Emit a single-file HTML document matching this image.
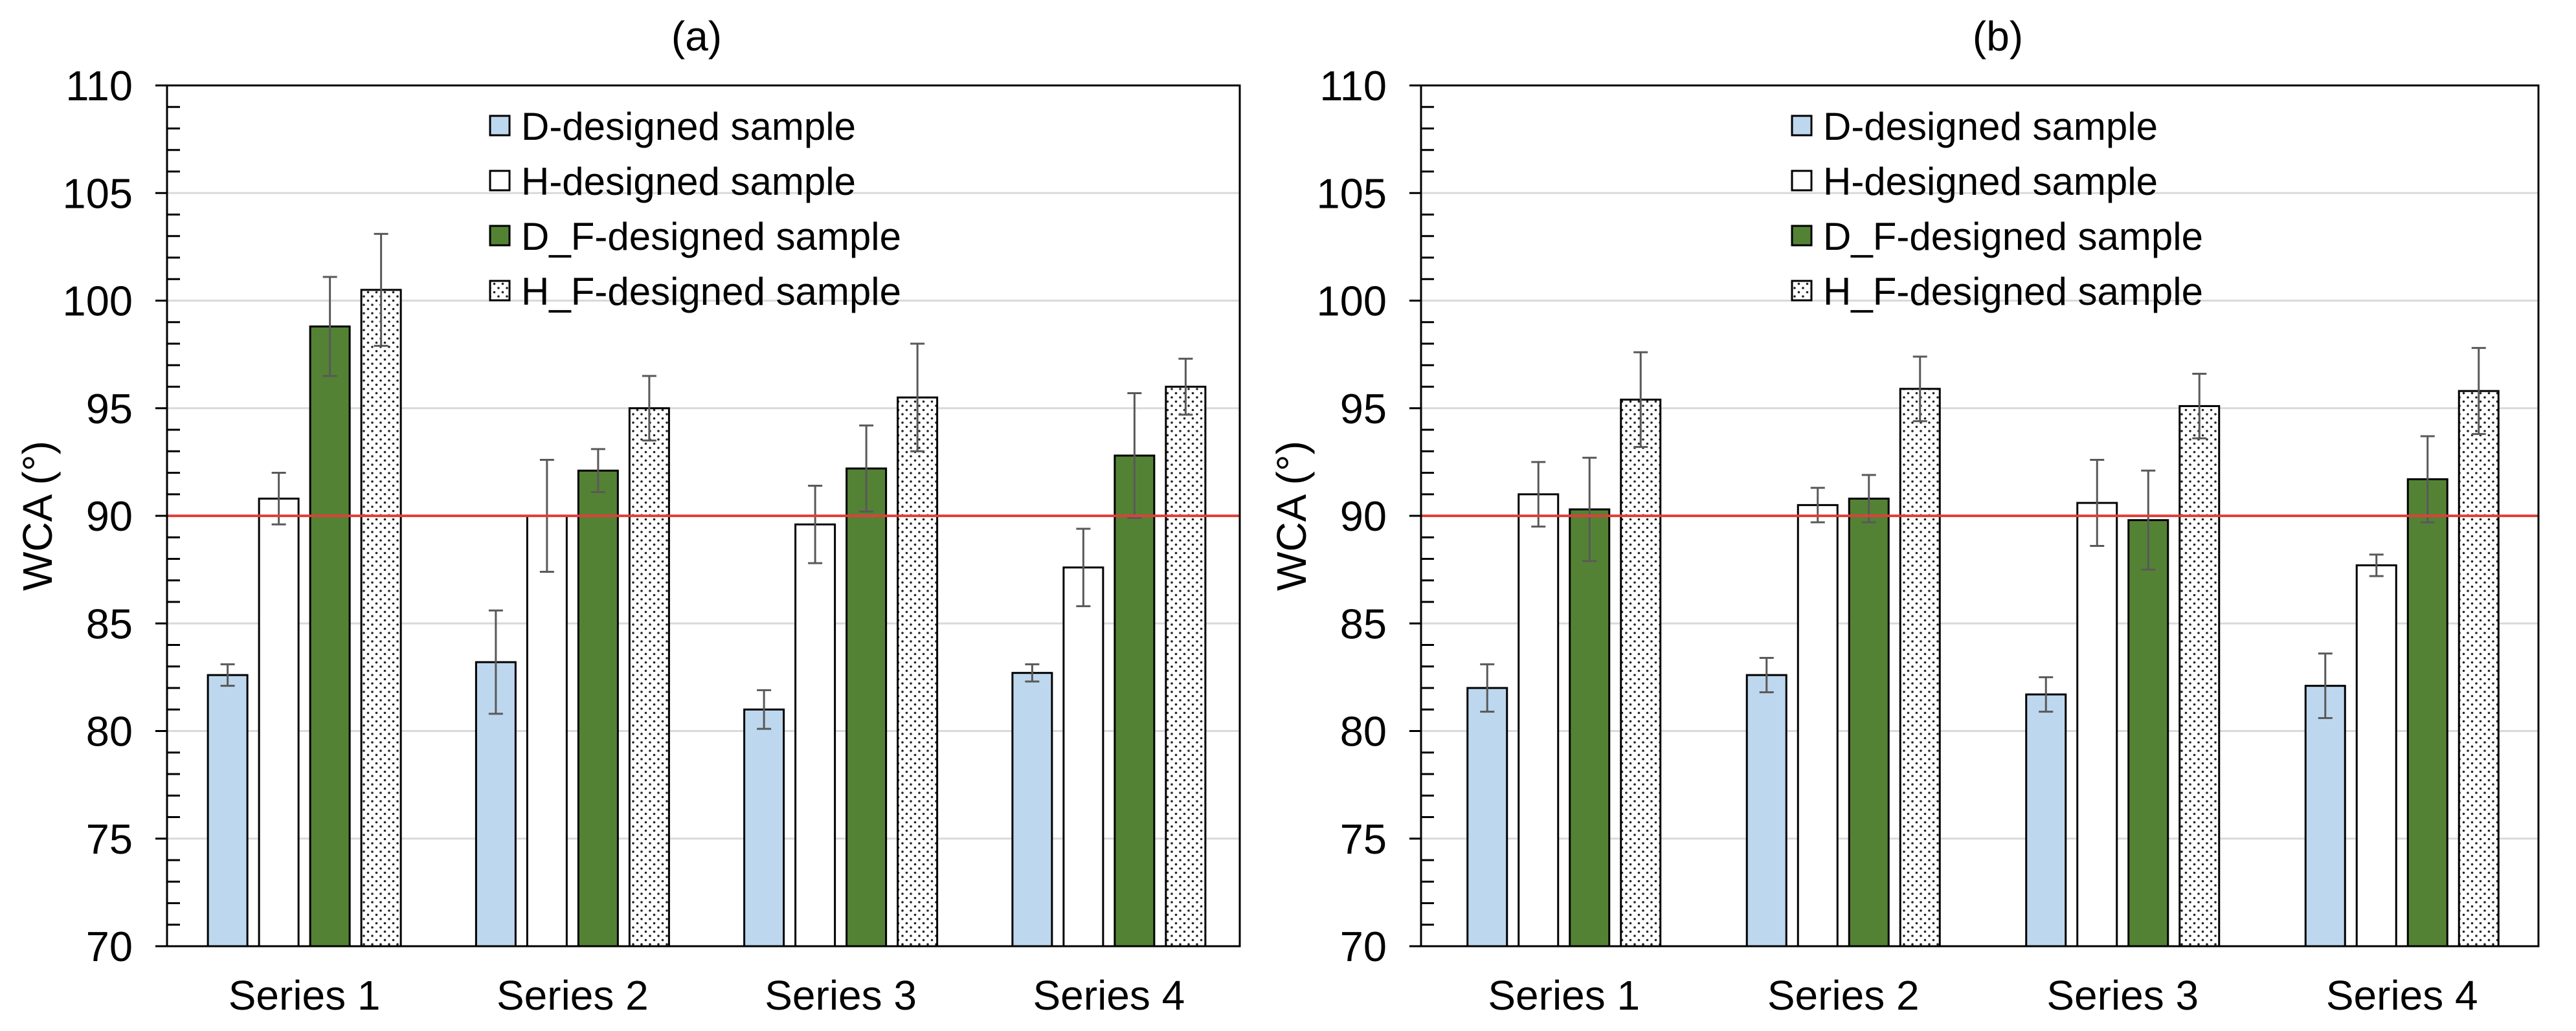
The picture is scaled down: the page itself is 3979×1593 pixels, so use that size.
<!DOCTYPE html>
<html><head><meta charset="utf-8">
<style>
html,body{margin:0;padding:0;background:#fff;}
svg{display:block;font-family:"Liberation Sans",Arial,sans-serif;}
</style></head>
<body>
<svg id="chart" width="3979" height="1593" viewBox="0 0 3979 1593" xmlns="http://www.w3.org/2000/svg">
<defs>
<pattern id="dots" width="13" height="13" patternUnits="userSpaceOnUse">
<rect width="13" height="13" fill="#fff"/>
<circle cx="3" cy="3" r="1.8" fill="#222"/>
<circle cx="9.5" cy="9.5" r="1.8" fill="#222"/>
</pattern>
</defs>
</svg>
<script>
const categories = ["Series 1","Series 2","Series 3","Series 4"];
const seriesNames = ["D-designed sample","H-designed sample","D_F-designed sample","H_F-designed sample"];
const yTicks = [70,75,80,85,90,95,100,105,110];
const refLine = 90;
// panel (a)
const aD = [82.6,83.2,81.0,82.7];
const aH = [90.8,90.0,89.6,87.6];
const aDF = [98.8,92.1,92.2,92.8];
const aHF = [100.5,95.0,95.5,96.0];
const aDerr = [0.5,2.4,0.9,0.4];
const aHerr = [1.2,2.6,1.8,1.8];
const aDFerr = [2.3,1.0,2.0,2.9];
const aHFerr = [2.6,1.5,2.5,1.3];
// panel (b)
const bD = [82.0,82.6,81.7,82.1];
const bH = [91.0,90.5,90.6,87.7];
const bDF = [90.3,90.8,89.8,91.7];
const bHF = [95.4,95.9,95.1,95.8];
const bDerr = [1.1,0.8,0.8,1.5];
const bHerr = [1.5,0.8,2.0,0.5];
const bDFerr = [2.4,1.1,2.3,2.0];
const bHFerr = [2.2,1.5,1.5,2.0];

const NS="http://www.w3.org/2000/svg";
const svg=document.getElementById('chart');
function mk(tag,attrs,parent){const e=document.createElementNS(NS,tag);for(const k in attrs)e.setAttribute(k,attrs[k]);(parent||svg).appendChild(e);return e;}
const fills=["#bdd7ee","#ffffff","#548235","url(#dots)"];

function panel(id,x0,x1,title,titleX,legX,vals,errs){
  const g=mk('g',{});
  
  
  const y0=1462,yTop=132,vmin=70,vmax=110;
  const ys=v=>y0-(v-vmin)/(vmax-vmin)*(y0-yTop);
  const cw=(x1-x0)/categories.length;
  yTicks.forEach(t=>{
    if(t>vmin && t<vmax){const l=mk('line',{x1:x0,x2:x1,y1:ys(t),y2:ys(t),stroke:'#d9d9d9','stroke-width':3},g);
    
    }
    const tk=mk('line',{x1:x0-18,x2:x0,y1:ys(t),y2:ys(t),stroke:'#000','stroke-width':3},g);
    
    
    const tx=mk('text',{x:x0-53,y:ys(t)+23,'text-anchor':'end','font-size':65,fill:'#000'},g);
    tx.textContent=t;
    
    
  });
  for(let v=vmin+1;v<vmax;v++){ if(v%5===0)continue;
    const m=mk('line',{x1:x0,x2:x0+20,y1:ys(v),y2:ys(v),stroke:'#000','stroke-width':3},g);
    
    
  }
  const bw=61,gap=18;
  categories.forEach((c,i)=>{
    const cx=x0+cw*(i+0.5)+5;
    const start=cx-(4*bw+3*gap)/2;
    for(let s=0;s<4;s++){
      const v=vals[s][i],e=errs[s][i];
      const bx=start+s*(bw+gap);
      const r=mk('rect',{x:bx,y:ys(v),width:bw,height:y0-ys(v),fill:fills[s],stroke:'#000','stroke-width':3},g);
      
      
      const mx=bx+bw/2;
      const eb=mk('path',{d:`M${mx},${ys(v+e)}V${ys(v-e)}M${mx-11},${ys(v+e)}H${mx+11}M${mx-11},${ys(v-e)}H${mx+11}`,stroke:'#595959','stroke-width':3,fill:'none'},g);
      
      
    }
    const ct=mk('text',{x:cx,y:1560,'text-anchor':'middle','font-size':64,fill:'#000'},g);
    ct.textContent=c;
    
    
  });
  const rl=mk('line',{x1:x0,x2:x1,y1:ys(refLine),y2:ys(refLine),stroke:'#e0403a','stroke-width':4},g);
  
  
  const fr=mk('rect',{x:x0,y:yTop,width:x1-x0,height:y0-yTop,fill:'none',stroke:'#000','stroke-width':3},g);
  
  
  const tt=mk('text',{x:titleX,y:78,'text-anchor':'middle','font-size':64,fill:'#000'},g);
  tt.textContent=title;
  
  
  const yt=mk('text',{x:0,y:0,transform:`translate(${x0-178},${(y0+yTop)/2}) rotate(-90)`,'text-anchor':'middle','font-size':64,fill:'#000'},g);
  yt.textContent='WCA (°)';
  
  
  const ly=[195,280,365,450];
  seriesNames.forEach((n,s)=>{
    const sw=mk('rect',{x:legX,y:ly[s]-16,width:30,height:30,fill:fills[s],stroke:'#000','stroke-width':3},g);
    
    
    const lt=mk('text',{x:legX,y:ly[s]+21,'font-size':60,fill:'#000'},g);
    lt.setAttribute('x',legX+48);
    lt.textContent=n;
    
    
  });
}
panel('a',258,1915,'(a)',1076,757,[aD,aH,aDF,aHF],[aDerr,aHerr,aDFerr,aHFerr]);
panel('b',2195,3921,'(b)',3086,2768,[bD,bH,bDF,bHF],[bDerr,bHerr,bDFerr,bHFerr]);
</script>
</body></html>
